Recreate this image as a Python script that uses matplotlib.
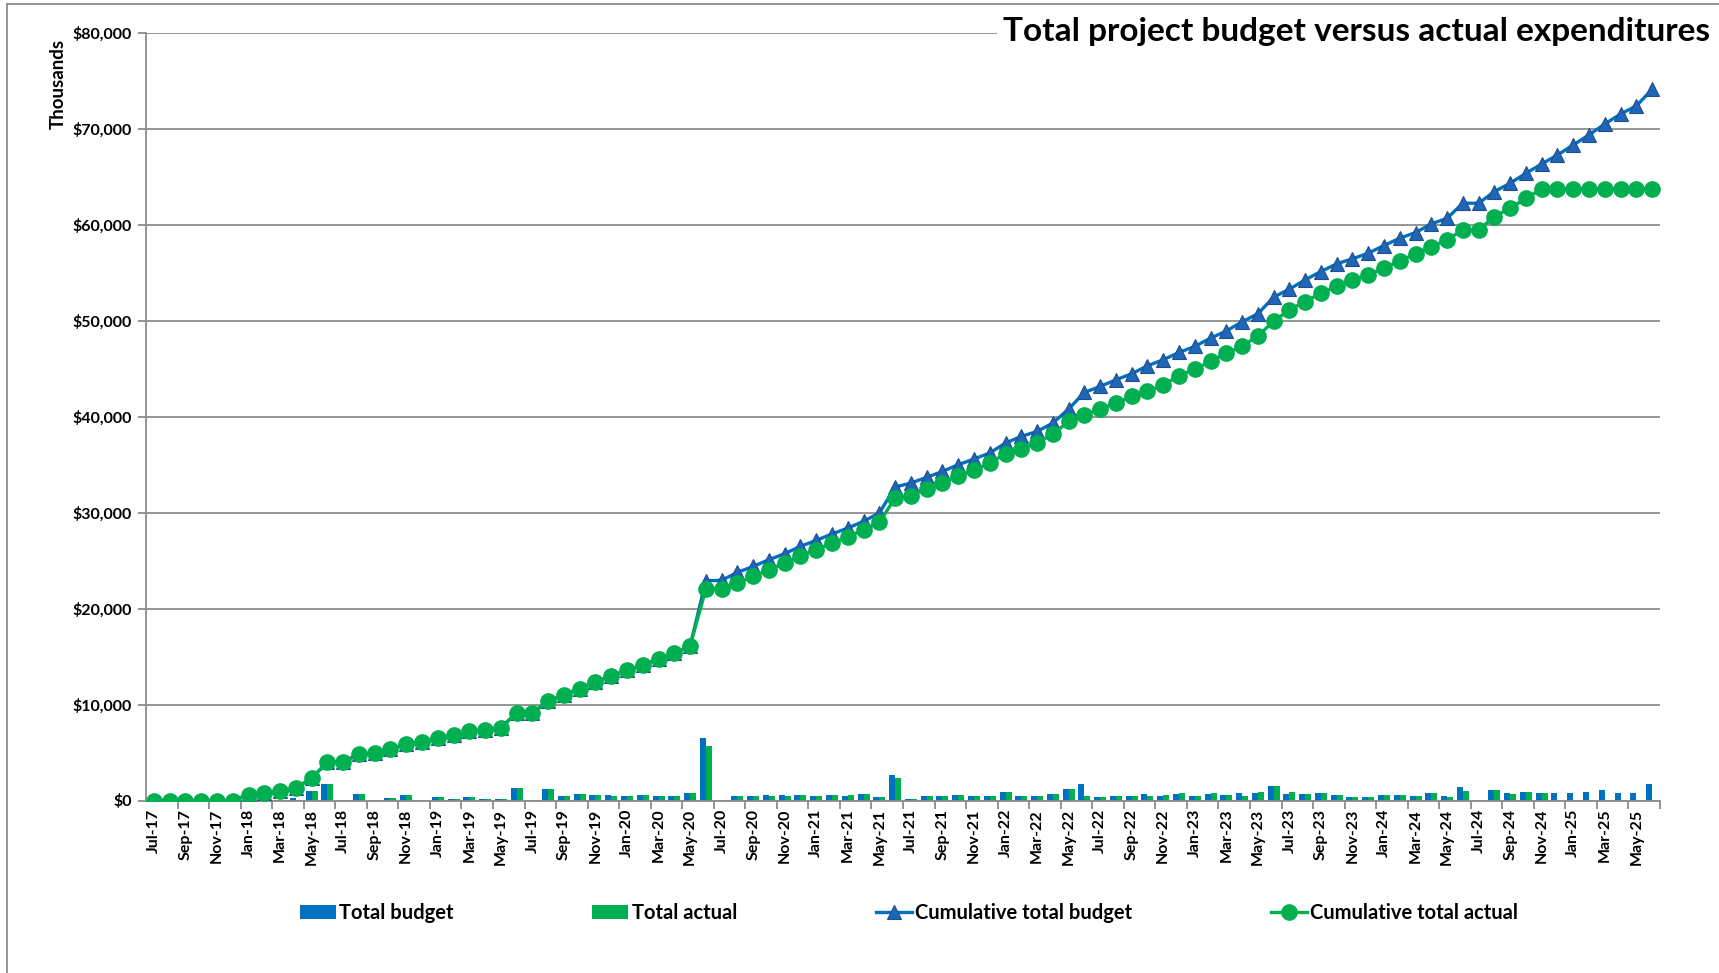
import numpy as np
import matplotlib.pyplot as plt
from matplotlib.lines import Line2D
from matplotlib.ticker import FuncFormatter, FixedLocator

plt.rcParams['font.family'] = ['Lato', 'DejaVu Sans']

# months Jul-17 .. Jun-25
months = []
for y in range(2017, 2026):
    for m in ["Jan", "Feb", "Mar", "Apr", "May", "Jun", "Jul", "Aug", "Sep", "Oct", "Nov", "Dec"]:
        months.append(m + "-" + str(y)[2:])
months = months[months.index("Jul-17"):months.index("Jun-25") + 1]

# monthly values, $ thousands
total_budget = [0, 0, 0, 0, 0, 0, 0, 0, 0, 240, 940, 1670,
                0, 660, 0, 240, 555, 0, 350, 170, 350, 170, 170, 1350,
                0, 1150, 450, 660, 555, 555, 450, 555, 450, 450, 765, 6520,
                0, 460, 460, 560, 560, 560, 460, 560, 460, 670, 350, 2680,
                180, 460, 460, 560, 460, 460, 880, 460, 460, 670, 1200, 1690,
                350, 460, 460, 670, 460, 670, 460, 670, 560, 770, 770, 1480,
                670, 670, 770, 560, 350, 350, 560, 560, 460, 770, 460, 1410,
                0, 1090, 770, 880, 770, 770, 770, 880, 1090, 770, 770, 1690]

total_actual = [0, 0, 0, 0, 0, 0, 0, 0, 0, 100, 940, 1670,
                0, 660, 0, 240, 555, 0, 350, 170, 350, 170, 170, 1350,
                0, 1150, 450, 660, 555, 450, 450, 555, 450, 450, 765, 5720,
                0, 460, 460, 460, 460, 560, 460, 560, 560, 670, 350, 2320,
                180, 460, 460, 560, 460, 460, 880, 460, 460, 670, 1200, 460,
                350, 460, 460, 460, 560, 770, 460, 770, 560, 460, 880, 1480,
                880, 670, 770, 560, 350, 350, 560, 560, 460, 770, 350, 990,
                0, 1090, 670, 880, 770, 0, 0, 0, 0, 0, 0, 0]

cum_actual = [0, 0, 0, 0, 0, 0, 600, 770, 940, 1290, 2330, 4000,
              4050, 4810, 4950, 5330, 5920, 6100, 6550, 6800, 7210, 7390, 7600, 9130,
              9100, 10380, 10980, 11670, 12370, 12960, 13590, 14110, 14740, 15330, 16100, 22050,
              22050, 22670, 23370, 24060, 24760, 25520, 26150, 26840, 27470, 28230, 28990, 31530,
              31770, 32470, 33090, 33780, 34410, 35170, 36150, 36630, 37260, 38190, 39510, 40210,
              40800, 41420, 42120, 42640, 43330, 44270, 44970, 45760, 46630, 47330, 48440, 49930,
              51150, 52010, 52880, 53580, 54270, 54790, 55490, 56250, 56980, 57740, 58440, 59480,
              59480, 60870, 61740, 62780, 63720, 63720, 63720, 63720, 63720, 63720, 63720, 63720]

cum_budget = cum_actual[:35] + [
    22900, 22950, 23780, 24400, 25100, 25730, 26490, 27120, 27780, 28400, 29100, 29970,
    32670, 33090, 33680, 34300, 35000, 35590, 36220, 37260, 37950, 38470, 39340, 40800,
    42530, 43160, 43850, 44480, 45310, 45940, 46700, 47330, 48190, 48940, 49890, 50730,
    52470, 53300, 54270, 55140, 55940, 56460, 57050, 57850, 58610, 59200, 60100, 60690,
    62260, 62260, 63470, 64340, 65380, 66350, 67290, 68330, 69380, 70520, 71560, 72400, 74130]

blue = "#0070C0"
green = "#00B050"
grey = "#8C8C8C"

x = np.arange(len(months))

fig = plt.figure(figsize=(17.19, 9.73), dpi=100)
ax = fig.add_axes([146 / 1719, 1 - 800.5 / 973, (1660 - 146) / 1719, (800.5 - 33) / 973])

w = 0.38
b1 = ax.bar(x - w / 2, total_budget, w, color=blue, label="Total budget", zorder=2)
b2 = ax.bar(x + w / 2, total_actual, w, color=green, label="Total actual", zorder=2)
l1, = ax.plot(x, cum_budget, color=blue, lw=2.4, marker="^", ms=10,
              mfc="#1F66B8", mec="#1F4E8C", mew=0.8, label="Cumulative total budget", zorder=3)
l2, = ax.plot(x, cum_actual, color=green, lw=2.4, marker="o", ms=11,
              mfc=green, mec=green, label="Cumulative total actual", zorder=4)

ax.set_xlim(-0.5, len(months) - 0.5)
ax.set_ylim(0, 80000)
ax.set_yticks(np.arange(0, 80001, 10000))
ax.yaxis.set_major_formatter(FuncFormatter(lambda v, p: "${:,.0f}".format(v)))
ax.grid(axis="y", color=grey, lw=1.3, zorder=0)
ax.set_axisbelow(True)

ax.set_xticks(x[::2])
ax.set_xticklabels(months[::2], rotation=90)
ax.xaxis.set_minor_locator(FixedLocator(np.arange(1.5, len(months), 2)))
ax.tick_params(axis="x", which="major", length=0, pad=6)
ax.tick_params(axis="x", which="minor", length=6, color=grey, width=1.3)
ax.tick_params(axis="y", length=6, color=grey, width=1.3, pad=4)
for lab in ax.get_xticklabels() + ax.get_yticklabels():
    lab.set_fontweight("bold")
    lab.set_fontsize(11.5)

for s in ["top", "right"]:
    ax.spines[s].set_visible(False)
for s in ["left", "bottom"]:
    ax.spines[s].set_color(grey)
    ax.spines[s].set_linewidth(1.3)

fig.text(58 / 1719, 1 - 84 / 973, "Thousands", rotation=90, ha="center", va="center",
         fontsize=13.5, fontweight="bold")

fig.text(1710 / 1719, 1 - 31 / 973, "Total project budget versus actual expenditures",
         ha="right", va="center", fontsize=24, fontweight="bold",
         bbox=dict(facecolor="white", edgecolor="none", pad=4), zorder=5)

fig.legend(handles=[b1, b2, l1, l2], loc="center", bbox_to_anchor=(909 / 1719, 1 - 913 / 973),
           ncol=4, frameon=False, handlelength=1.8, handletextpad=0.15, columnspacing=6.9,
           prop={"weight": "bold", "size": 14.5})

# outer chart border
fig.add_artist(Line2D([7 / 1719, 7 / 1719], [0, 1 - 4 / 973], color=grey, lw=1.3))
fig.add_artist(Line2D([7 / 1719, 1], [1 - 4 / 973, 1 - 4 / 973], color=grey, lw=1.3))

fig.savefig("out.png", dpi=100)
